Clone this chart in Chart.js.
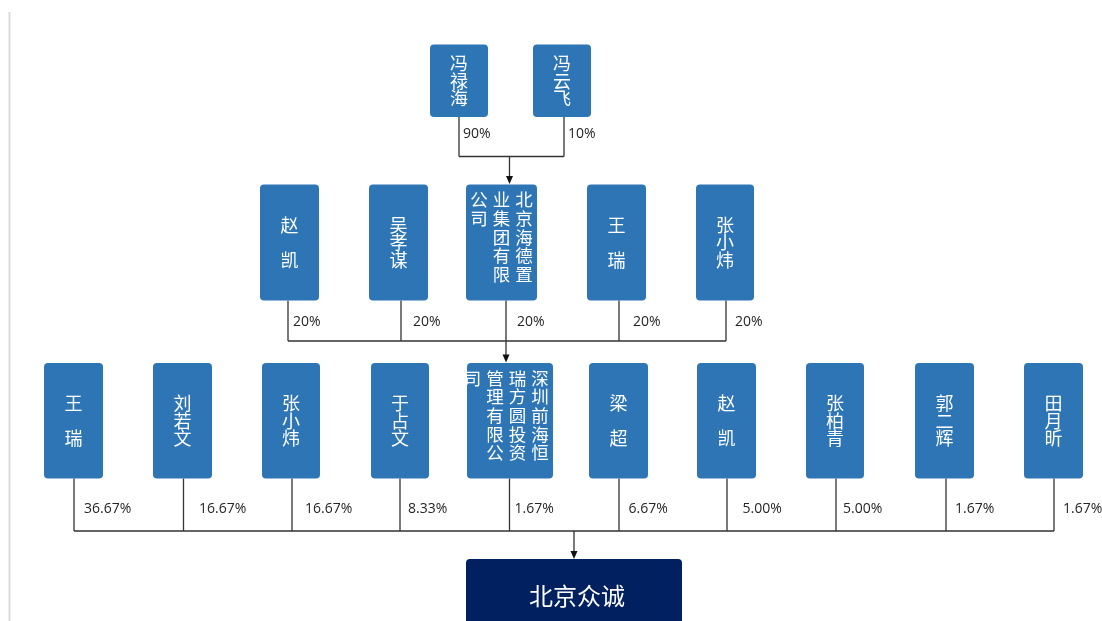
<!DOCTYPE html>
<html lang="zh">
<head>
<meta charset="UTF-8">
<title>北京众诚股权结构</title>
<script src="https://cdn.jsdelivr.net/npm/chart.js"></script>
<style>
  html, body { margin: 0; padding: 0; background: #fff; }
  #wrap { width: 1102px; height: 621px; position: relative; overflow: hidden; }
</style>
</head>
<body>
<div id="wrap"><canvas id="equityChart"></canvas></div>
<script>
// 股东名称与持股比例
const topOwners = ['冯禄海', '冯云飞'];
const topShares = [90, 10];
const midOwners = ['赵凯', '吴孝谋', '北京海德置业集团有限公司', '王瑞', '张小炜'];
const midShares = [20, 20, 20, 20, 20];
const lowOwners = ['王瑞', '刘若文', '张小炜', '于占文', '深圳前海恒瑞方圆投资管理有限公司',
                   '梁超', '赵凯', '张柏青', '郭二辉', '田月昕'];
const lowShares = [36.67, 16.67, 16.67, 8.33, 1.67, 6.67, 5.00, 5.00, 1.67, 1.67];
const targetName = '北京众诚';

// 版面位置（作为坐标轴上的数值）
const tiers = [
  { owners: topOwners, shares: topShares, digits: 0,
    left: [430, 533], width: [58, 58], top: 44.5, bottom: 117,
    lineX: [459, 564], labelX: [463, 568], labelY: 134, busY: 156.5,
    arrowX: 509.5, arrowTo: 184 },
  { owners: midOwners, shares: midShares, digits: 0,
    left: [260, 369, 466, 587, 696], width: [59, 59, 71, 59, 58], top: 184.5, bottom: 300.5,
    lineX: [288, 401, 506, 619, 726], labelX: [293, 413, 517, 633, 735], labelY: 322, busY: 341,
    arrowX: 506, arrowTo: 362.5 },
  { owners: lowOwners, shares: lowShares, digits: 2,
    left: [44, 153, 262, 371, 467, 589, 697, 806, 915, 1024],
    width: [59, 59, 58, 58, 86, 59, 59, 58, 59, 59], top: 363, bottom: 478.5,
    lineX: [74, 183.5, 292, 400, 509.5, 619, 727, 836, 946, 1054],
    labelX: [84, 199, 305, 408, 514.5, 628.5, 742.5, 843, 955, 1063], labelY: 509.5, busY: 531,
    arrowX: 574, arrowTo: 559 }
];
const target = { left: 466, right: 682, top: 559, bottom: 650 };

const BOX_BLUE = '#2e75b6';
const NAVY = '#002060';
const LINE = '#333333';

function roundRect(ctx, x, y, w, h, r) {
  ctx.beginPath();
  ctx.moveTo(x + r, y);
  ctx.lineTo(x + w - r, y);
  ctx.quadraticCurveTo(x + w, y, x + w, y + r);
  ctx.lineTo(x + w, y + h - r);
  ctx.quadraticCurveTo(x + w, y + h, x + w - r, y + h);
  ctx.lineTo(x + r, y + h);
  ctx.quadraticCurveTo(x, y + h, x, y + h - r);
  ctx.lineTo(x, y + r);
  ctx.quadraticCurveTo(x, y, x + r, y);
  ctx.closePath();
}

const structurePlugin = {
  id: 'structure',
  afterDatasetsDraw(chart) {
    const ctx = chart.ctx;
    const sx = v => chart.scales.x.getPixelForValue(v);
    const sy = v => chart.scales.y.getPixelForValue(v);

    ctx.save();
    // page edge on the left
    ctx.strokeStyle = '#dcdcdc';
    ctx.lineWidth = 2;
    ctx.beginPath();
    ctx.moveTo(sx(9.5), sy(12));
    ctx.lineTo(sx(9.5), sy(621));
    ctx.stroke();

    tiers.forEach(t => {
      // connectors
      ctx.strokeStyle = LINE;
      ctx.lineWidth = 1.3;
      ctx.beginPath();
      t.lineX.forEach(x => {
        ctx.moveTo(sx(x), sy(t.bottom));
        ctx.lineTo(sx(x), sy(t.busY));
      });
      ctx.moveTo(sx(Math.min(...t.lineX)), sy(t.busY));
      ctx.lineTo(sx(Math.max(...t.lineX)), sy(t.busY));
      ctx.moveTo(sx(t.arrowX), sy(t.busY));
      ctx.lineTo(sx(t.arrowX), sy(t.arrowTo - 7));
      ctx.stroke();
      ctx.fillStyle = '#111';
      ctx.beginPath();
      ctx.moveTo(sx(t.arrowX), sy(t.arrowTo));
      ctx.lineTo(sx(t.arrowX - 3.5), sy(t.arrowTo - 8));
      ctx.lineTo(sx(t.arrowX + 3.5), sy(t.arrowTo - 8));
      ctx.closePath();
      ctx.fill();

      // share labels
      ctx.fillStyle = '#262626';
      ctx.font = '14px "Open Sans", "Noto Sans", sans-serif';
      ctx.textAlign = 'left';
      ctx.textBaseline = 'middle';
      t.shares.forEach((s, i) => {
        ctx.fillText(s.toFixed(t.digits) + '%', sx(t.labelX[i]), sy(t.labelY));
      });

      // owner boxes
      t.owners.forEach((name, i) => {
        const x0 = sx(t.left[i]), x1 = sx(t.left[i] + t.width[i]);
        const y0 = sy(t.top), y1 = sy(t.bottom);
        ctx.fillStyle = BOX_BLUE;
        roundRect(ctx, x0, y0, x1 - x0, y1 - y0, 4);
        ctx.fill();

        ctx.fillStyle = '#ffffff';
        ctx.textAlign = 'center';
        ctx.textBaseline = 'middle';
        const chars = Array.from(name);
        if (chars.length <= 3) {
          ctx.font = '18px "Noto Sans CJK SC", sans-serif';
          const gap = chars.length === 2 ? 35 : 17.8;
          const cx = t.left[i] + t.width[i] / 2;
          const cy = (t.top + t.bottom) / 2;
          chars.forEach((c, k) => {
            ctx.fillText(c, sx(cx), sy(cy + (k - (chars.length - 1) / 2) * gap));
          });
        } else {
          ctx.font = '17.5px "Noto Sans CJK SC", sans-serif';
          const right = t.left[i] + t.width[i];
          chars.forEach((c, k) => {
            const col = Math.floor(k / 5), row = k % 5;
            ctx.fillText(c, sx(right - 13 - col * 22.5), sy(t.top + 15 + row * 18.7));
          });
        }
      });
    });

    // target company
    ctx.fillStyle = NAVY;
    roundRect(ctx, sx(target.left), sy(target.top), sx(target.right) - sx(target.left),
              sy(target.bottom) - sy(target.top), 4);
    ctx.fill();
    ctx.fillStyle = '#ffffff';
    ctx.font = '24px "Noto Sans CJK SC", sans-serif';
    ctx.textAlign = 'center';
    ctx.textBaseline = 'middle';
    ctx.fillText(targetName, sx(577), sy(596));
    ctx.restore();
  }
};

const nodePoints = [];
tiers.forEach(t => t.owners.forEach((n, i) => {
  nodePoints.push({ x: t.left[i] + t.width[i] / 2, y: (t.top + t.bottom) / 2, name: n });
}));

new Chart(document.getElementById('equityChart'), {
  type: 'scatter',
  data: {
    datasets: [{
      label: '股东',
      data: nodePoints,
      pointRadius: 0,
      pointHoverRadius: 0
    }]
  },
  options: {
    responsive: true,
    maintainAspectRatio: false,
    animation: false,
    layout: { padding: 0 },
    plugins: { legend: { display: false }, tooltip: { enabled: false } },
    scales: {
      x: { type: 'linear', min: 0, max: 1102, display: false },
      y: { type: 'linear', min: 0, max: 621, reverse: true, display: false }
    }
  },
  plugins: [structurePlugin]
});
</script>
</body>
</html>
